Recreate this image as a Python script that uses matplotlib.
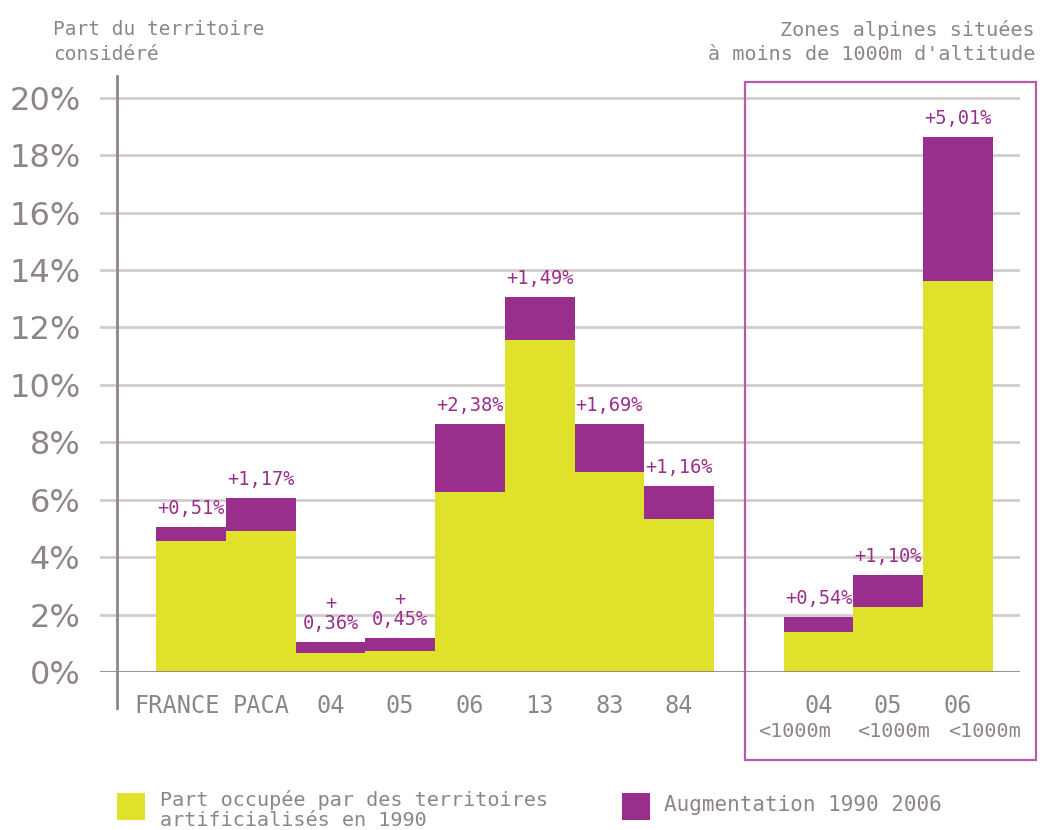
import matplotlib
matplotlib.use("Agg")
import matplotlib.pyplot as plt
import matplotlib.transforms as mtransforms
from matplotlib.patches import Rectangle

# ---- data ----
categories = ["FRANCE", "PACA", "04", "05", "06", "13", "83", "84", "04", "05", "06"]
sub_labels = ["", "", "", "", "", "", "", "", "<1000m", "<1000m", "<1000m"]
group = ["main"] * 8 + ["alpine"] * 3
base_1990 = [4.55, 4.90, 0.67, 0.72, 6.26, 11.57, 6.96, 5.33, 1.38, 2.27, 13.61]
increase = [0.51, 1.17, 0.36, 0.45, 2.38, 1.49, 1.69, 1.16, 0.54, 1.10, 5.01]
inc_labels = ["+0,51%", "+1,17%", "+\n0,36%", "+\n0,45%", "+2,38%", "+1,49%",
              "+1,69%", "+1,16%", "+0,54%", "+1,10%", "+5,01%"]
y_ticks = [0, 2, 4, 6, 8, 10, 12, 14, 16, 18, 20]
y_tick_labels = [f"{v}%" for v in y_ticks]
legend_labels = ["Part occupée par des territoires\nartificialisés en 1990",
                 "Augmentation 1990 2006"]

# ---- style ----
YELLOW = "#dfe12b"
PURPLE = "#9a2e8c"
GRID = "#d3cccc"
AXIS = "#8f8585"
TXT = "#8f8585"
BOX = "#b65aab"
MONO = "DejaVu Sans Mono"
SUB_OFFSETS_PX = [0, 0, 0, 0, 0, 0, 0, 0, -24, 5, 27]

W, H = 1040, 830
fig = plt.figure(figsize=(W / 100, H / 100), dpi=100)
ax = fig.add_axes([100 / W, 158 / H, 920 / W, (672 - 89.2) / H])

# x positions: groups separated by one empty slot
xpos = []
p = 0
prev = group[0]
for g in group:
    if g != prev:
        p += 1
        prev = g
    xpos.append(p)
    p += 1

ax.set_xlim(-1.306, 11.89)
ax.set_ylim(0, 20.3)
for s in ax.spines.values():
    s.set_visible(False)

# grid lines
for v in y_ticks[1:]:
    ax.axhline(v, color=GRID, lw=2, zorder=0)
ax.axhline(0, color=AXIS, lw=2, zorder=4)
# vertical axis line (extends beyond axes)
ax.plot([-1.06, -1.06], [-1.25, 20.76], color=AXIS, lw=2, clip_on=False, zorder=4)

ax.bar(xpos, base_1990, width=1.0, color=YELLOW, edgecolor="none", zorder=2)
ax.bar(xpos, increase, width=1.0, bottom=base_1990, color=PURPLE, edgecolor="none", zorder=2)

for x, b, inc, lab in zip(xpos, base_1990, increase, inc_labels):
    ax.annotate(lab, xy=(x, b + inc), xytext=(0, 6.5), textcoords="offset points",
                ha="center", va="bottom", multialignment="center",
                fontsize=13.5, family=MONO, color=PURPLE, linespacing=1.1, zorder=5)

ax.set_yticks(y_ticks)
ax.set_yticklabels(y_tick_labels, fontsize=23, color=TXT, family="DejaVu Sans")
ax.tick_params(axis="y", length=0, pad=14)

ax.set_xticks(xpos)
ax.set_xticklabels(categories, fontsize=17, color=TXT, family=MONO)
ax.tick_params(axis="x", length=0, pad=16)
lbl0 = ax.get_xticklabels()[0]
lbl0.set_transform(lbl0.get_transform() + mtransforms.ScaledTranslation(-10 / 72, 0, fig.dpi_scale_trans))

for x, s, off in zip(xpos, sub_labels, SUB_OFFSETS_PX):
    if s:
        ax.annotate(s, xy=(x, 0), xycoords=("data", "axes fraction"),
                    xytext=(off / 1.389, -43), textcoords="offset points",
                    ha="center", va="center", fontsize=14.5, family=MONO, color=TXT)

# headers
fig.text(53 / W, 1 - 20 / H, "Part du territoire\nconsidéré", ha="left", va="top",
         fontsize=14, family=MONO, color=TXT, linespacing=1.4)
fig.text(1035 / W, 1 - 20 / H, "Zones alpines situées\nà moins de 1000m d'altitude",
         ha="right", va="top", multialignment="right",
         fontsize=14.5, family=MONO, color=TXT, linespacing=1.3)

# box around alpine group
fig.add_artist(Rectangle((745 / W, 1 - 760 / H), (1036 - 745) / W, (760 - 82) / H,
                         transform=fig.transFigure, fill=False, edgecolor=BOX, lw=1.6))

# legend
fig.add_artist(Rectangle((117 / W, 1 - 820 / H), 28 / W, 27 / H,
                         transform=fig.transFigure, facecolor=YELLOW, edgecolor="none"))
fig.text(160 / W, 1 - 810 / H, legend_labels[0], ha="left", va="center",
         fontsize=14.5, color=TXT, family=MONO, linespacing=1.1)
fig.add_artist(Rectangle((622 / W, 1 - 820 / H), 28 / W, 27 / H,
                         transform=fig.transFigure, facecolor=PURPLE, edgecolor="none"))
fig.text(664 / W, 1 - 805 / H, legend_labels[1], ha="left", va="center",
         fontsize=15, color=TXT, family=MONO)

fig.savefig("out.png", dpi=100)
